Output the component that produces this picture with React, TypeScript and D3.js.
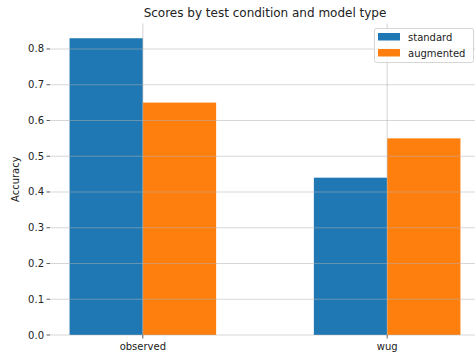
import React from "react";
import * as d3 from "d3";

const categories = ["observed", "wug"];
const seriesNames = ["standard", "augmented"];
const standardValues = [0.83, 0.44];
const augmentedValues = [0.65, 0.55];
const yTicks = [0, 0.1, 0.2, 0.3, 0.4, 0.5, 0.6, 0.7, 0.8];
const colors = ["#1f77b4", "#ff7f0e"];

const W = 475;
const H = 353;
const left = 50;
const right = 480;
const top = 23.4;
const bottom = 335;
const barW = 0.3;

export default function App() {
  const x = d3.scaleLinear().domain([-0.38, 1.38]).range([left, right]);
  const y = d3.scaleLinear().domain([0, 0.8715]).range([bottom, top]);
  const series = [standardValues, augmentedValues];
  const font = "DejaVu Sans, sans-serif";
  const gridColor = "rgba(176,176,176,0.5)";
  return (
    <svg width={W} height={H} style={{ position: "absolute", left: 0, top: 0 }} fontFamily={font}>
      <rect width={W} height={H} fill="#fff" />
      {series.map((vals, si) =>
        vals.map((v, ci) => {
          const x0 = si === 0 ? x(ci - barW) : x(ci);
          const x1 = si === 0 ? x(ci) : x(ci + barW);
          return (
            <rect key={`${si}-${ci}`} x={x0} y={y(v)} width={x1 - x0} height={y(0) - y(v)} fill={colors[si]} />
          );
        })
      )}
      {yTicks.map((t) => (
        <g key={t}>
          <line x1={left} x2={right} y1={y(t)} y2={y(t)} stroke={gridColor} strokeWidth={1.1} />
          <line x1={left - 3.5} x2={left} y1={y(t)} y2={y(t)} stroke="#333" strokeWidth={0.8} />
          <text x={left - 6} y={y(t)} dy="0.35em" textAnchor="end" fontSize={10} fill="#222">
            {t.toFixed(1)}
          </text>
        </g>
      ))}
      {categories.map((c, i) => (
        <g key={c}>
          <line x1={x(i)} x2={x(i)} y1={top} y2={bottom} stroke={gridColor} strokeWidth={1.1} />
          <line x1={x(i)} x2={x(i)} y1={bottom} y2={bottom + 3.5} stroke="#333" strokeWidth={0.8} />
          <text x={x(i)} y={bottom + 15} textAnchor="middle" fontSize={10} fill="#222">
            {c}
          </text>
        </g>
      ))}
      <text x={(left + right) / 2} y={16.5} textAnchor="middle" fontSize={12} fill="#222">
        Scores by test condition and model type
      </text>
      <text transform={`translate(19,${(top + bottom) / 2}) rotate(-90)`} textAnchor="middle" fontSize={10} fill="#222">
        Accuracy
      </text>
      <g>
        <rect x={374.5} y={28.5} width={99} height={34} rx={2} fill="rgba(255,255,255,0.8)" stroke="#ccc" strokeWidth={0.8} />
        {seriesNames.map((n, i) => (
          <g key={n}>
            <rect x={378} y={33 + i * 16} width={22} height={7.5} fill={colors[i]} />
            <text x={408} y={37 + i * 16} dy="0.35em" fontSize={10} fill="#222">
              {n}
            </text>
          </g>
        ))}
      </g>
    </svg>
  );
}
